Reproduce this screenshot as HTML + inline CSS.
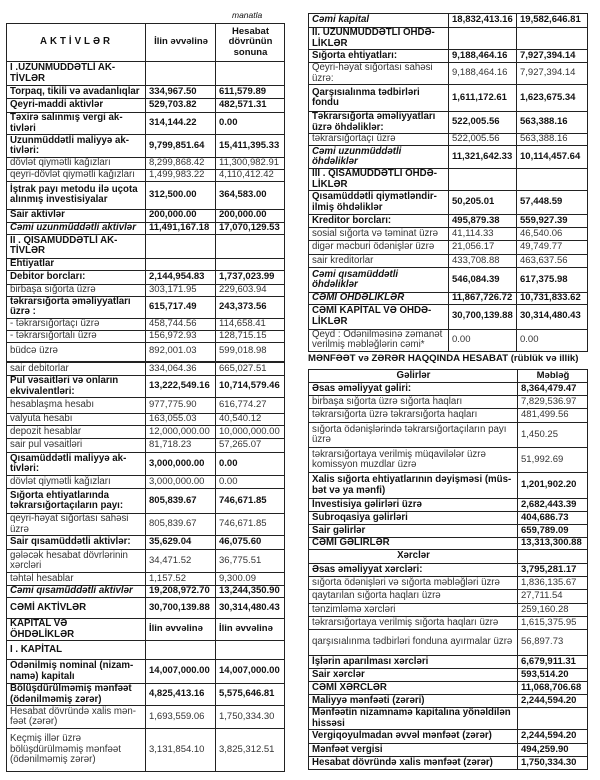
<!DOCTYPE html>
<html><head><meta charset="utf-8">
<style>
body{margin:0;width:600px;height:780px;background:#fff;position:relative;overflow:hidden;font-family:"Liberation Sans",Arial,sans-serif;color:#111;}
table{position:absolute;border-collapse:collapse;table-layout:fixed;font-size:9.7px;line-height:10.5px;}
td{border:1px solid #222;padding:0 2px 0 3px;vertical-align:middle;overflow:hidden;white-space:nowrap;}
td+td{font-size:9.5px;}
table{border:1.5px solid #222;}
.b td{font-weight:bold;}
.bi td{font-weight:bold;font-style:italic;}
.c{text-align:center;}
.n td{color:#333;}
</style></head><body>
<div style="position:absolute;left:232px;top:10px;font-size:8.5px;font-style:italic;">manatla</div>

<table style="left:6px;top:23px;width:278px;">
<colgroup><col style="width:139px"><col style="width:70px"><col style="width:69px"></colgroup>
<tr class="b" style="height:38px"><td class="c" style="letter-spacing:3px">AKTİVLƏR</td><td class="c">İlin əvvəlinə</td><td class="c">Hesabat<br>dövrünün<br>sonuna</td></tr>
<tr class="b" style="height:24px"><td>I .UZUNMÜDDƏTLİ AK-<br>TİVLƏR</td><td></td><td></td></tr>
<tr class="b" style="height:13px"><td>Torpaq, tikili və avadanlıqlar</td><td>334,967.50</td><td>611,579.89</td></tr>
<tr class="b" style="height:14px"><td>Qeyri-maddi aktivlər</td><td>529,703.82</td><td>482,571.31</td></tr>
<tr class="b" style="height:21px"><td>Təxirə salınmış vergi ak-<br>tivləri</td><td>314,144.22</td><td>0.00</td></tr>
<tr class="b" style="height:23px"><td>Uzunmüddətli maliyyə ak-<br>tivləri:</td><td>9,799,851.64</td><td>15,411,395.33</td></tr>
<tr class="n" style="height:11px"><td>dövlət qiymətli kağızları</td><td>8,299,868.42</td><td>11,300,982.91</td></tr>
<tr class="n" style="height:12px"><td>qeyri-dövlət qiymətli kağızları</td><td>1,499,983.22</td><td>4,110,412.42</td></tr>
<tr class="b" style="height:28px"><td>İştrak payı metodu ilə uçota<br>alınmış investisiyalar</td><td>312,500.00</td><td>364,583.00</td></tr>
<tr class="b" style="height:13px"><td>Sair aktivlər</td><td>200,000.00</td><td>200,000.00</td></tr>
<tr class="bi" style="height:12px"><td>Cəmi uzunmüddətli aktivlər</td><td style="font-style:normal">11,491,167.18</td><td style="font-style:normal">17,070,129.53</td></tr>
<tr class="b" style="height:24px"><td>II . QISAMÜDDƏTLİ AK-<br>TİVLƏR</td><td></td><td></td></tr>
<tr class="b" style="height:12px"><td>Ehtiyatlar</td><td></td><td></td></tr>
<tr class="b" style="height:14px"><td>Debitor borcları:</td><td>2,144,954.83</td><td>1,737,023.99</td></tr>
<tr class="n" style="height:12px"><td>birbaşa sığorta üzrə</td><td>303,171.95</td><td>229,603.94</td></tr>
<tr class="b" style="height:19px"><td>təkrarsığorta əməliyyatları<br>üzrə :</td><td>615,717.49</td><td>243,373.56</td></tr>
<tr class="n" style="height:12px"><td>- təkrarsığortaçı üzrə</td><td>458,744.56</td><td>114,658.41</td></tr>
<tr class="n" style="height:12px"><td>- təkrarsığortalı üzrə</td><td>156,972.93</td><td>128,715.15</td></tr>
<tr class="n" style="height:19px"><td>büdcə üzrə</td><td>892,001.03</td><td>599,018.98</td></tr>
</table>

<table style="left:6px;top:362px;width:278px;">
<colgroup><col style="width:139px"><col style="width:70px"><col style="width:69px"></colgroup>
<tr class="n" style="height:13px"><td>sair debitorlar</td><td>334,064.36</td><td>665,027.51</td></tr>
<tr class="b" style="height:21px"><td>Pul vəsaitləri və onların<br>ekvivalentləri:</td><td>13,222,549.16</td><td>10,714,579.46</td></tr>
<tr class="n" style="height:16px"><td>hesablaşma hesabı</td><td>977,775.90</td><td>616,774.27</td></tr>
<tr class="n" style="height:12px"><td>valyuta hesabı</td><td>163,055.03</td><td>40,540.12</td></tr>
<tr class="n" style="height:13px"><td>depozit hesablar</td><td>12,000,000.00</td><td>10,000,000.00</td></tr>
<tr class="n" style="height:14px"><td>sair pul vəsaitləri</td><td>81,718.23</td><td>57,265.07</td></tr>
<tr class="b" style="height:23px"><td>Qısamüddətli maliyyə ak-<br>tivləri:</td><td>3,000,000.00</td><td>0.00</td></tr>
<tr class="n" style="height:13px"><td>dövlət qiymətli kağızları</td><td>3,000,000.00</td><td>0.00</td></tr>
<tr class="b" style="height:25px"><td>Sığorta ehtiyatlarında<br>təkrarsığortaçıların payı:</td><td>805,839.67</td><td>746,671.85</td></tr>
<tr class="n" style="height:21px"><td>qeyri-həyat sığortası sahəsi<br>üzrə</td><td>805,839.67</td><td>746,671.85</td></tr>
<tr class="b" style="height:14px"><td>Sair qısamüddətli aktivlər:</td><td>35,629.04</td><td>46,075.60</td></tr>
<tr class="n" style="height:23px"><td>gələcək hesabat dövrlərinin<br>xərcləri</td><td>34,471.52</td><td>36,775.51</td></tr>
<tr class="n" style="height:13px"><td>təhtəl hesablar</td><td>1,157.52</td><td>9,300.09</td></tr>
<tr class="bi" style="height:12px"><td>Cəmi qısamüddətli aktivlər</td><td style="font-style:normal">19,208,972.70</td><td style="font-style:normal">13,244,350.90</td></tr>
<tr class="b" style="height:21px"><td>CƏMİ AKTİVLƏR</td><td>30,700,139.88</td><td>30,314,480.43</td></tr>
<tr class="b" style="height:22px"><td>KAPİTAL VƏ<br>ÖHDƏLİKLƏR</td><td>İlin əvvəlinə</td><td>İlin əvvəlinə</td></tr>
<tr class="b" style="height:19px"><td>I . KAPİTAL</td><td></td><td></td></tr>
<tr class="b" style="height:24px"><td>Ödənilmiş nominal (nizam-<br>namə) kapitalı</td><td>14,007,000.00</td><td>14,007,000.00</td></tr>
<tr class="b" style="height:22px"><td>Bölüşdürülməmiş mənfəət<br>(ödənilməmiş zərər)</td><td>4,825,413.16</td><td>5,575,646.81</td></tr>
<tr class="n" style="height:23px"><td>Hesabat dövründə xalis mən-<br>fəət (zərər)</td><td>1,693,559.06</td><td>1,750,334.30</td></tr>
<tr class="n" style="height:43px"><td>Keçmiş illər üzrə<br>bölüşdürülməmiş mənfəət<br>(ödənilməmiş zərər)</td><td>3,131,854.10</td><td>3,825,312.51</td></tr>
</table>

<table style="left:308px;top:13px;width:279px;">
<colgroup><col style="width:140px"><col style="width:68px"><col style="width:71px"></colgroup>
<tr class="bi" style="height:14px"><td>Cəmi kapital</td><td style="font-style:normal">18,832,413.16</td><td style="font-style:normal">19,582,646.81</td></tr>
<tr class="b" style="height:21px"><td>II. UZUNMÜDDƏTLİ ÖHDƏ-<br>LİKLƏR</td><td></td><td></td></tr>
<tr class="b" style="height:13px"><td>Sığorta ehtiyatları:</td><td>9,188,464.16</td><td>7,927,394.14</td></tr>
<tr class="n" style="height:22px"><td>Qeyri-həyat sığortası sahəsi<br>üzrə:</td><td>9,188,464.16</td><td>7,927,394.14</td></tr>
<tr class="b" style="height:27px"><td>Qarşısıalınma tədbirləri<br>fondu</td><td>1,611,172.61</td><td>1,623,675.34</td></tr>
<tr class="b" style="height:22px"><td>Təkrarsığorta əməliyyatları<br>üzrə öhdəliklər:</td><td>522,005.56</td><td>563,388.16</td></tr>
<tr class="n" style="height:12px"><td>təkrarsığortaçı üzrə</td><td>522,005.56</td><td>563,388.16</td></tr>
<tr class="bi" style="height:23px"><td>Cəmi uzunmüddətli<br>öhdəliklər</td><td style="font-style:normal">11,321,642.33</td><td style="font-style:normal">10,114,457.64</td></tr>
<tr class="b" style="height:22px"><td>III . QISAMÜDDƏTLİ ÖHDƏ-<br>LİKLƏR</td><td></td><td></td></tr>
<tr class="b" style="height:24px"><td>Qısamüddətli qiymətləndir-<br>ilmiş öhdəliklər</td><td>50,205.01</td><td>57,448.59</td></tr>
<tr class="b" style="height:13px"><td>Kreditor borcları:</td><td>495,879.38</td><td>559,927.39</td></tr>
<tr class="n" style="height:13px"><td>sosial sığorta və təminat üzrə</td><td>41,114.33</td><td>46,540.06</td></tr>
<tr class="n" style="height:14px"><td>digər məcburi ödənişlər üzrə</td><td>21,056.17</td><td>49,749.77</td></tr>
<tr class="n" style="height:13px"><td>sair kreditorlar</td><td>433,708.88</td><td>463,637.56</td></tr>
<tr class="bi" style="height:25px"><td>Cəmi qısamüddətli<br>öhdəliklər</td><td style="font-style:normal">546,084.39</td><td style="font-style:normal">617,375.98</td></tr>
<tr class="bi" style="height:11px"><td>CƏMİ ÖHDƏLİKLƏR</td><td style="font-style:normal">11,867,726.72</td><td style="font-style:normal">10,731,833.62</td></tr>
<tr class="b" style="height:25px"><td>CƏMİ KAPİTAL VƏ ÖHDƏ-<br>LİKLƏR</td><td>30,700,139.88</td><td>30,314,480.43</td></tr>
<tr class="n" style="height:20px"><td>Qeyd : Ödənilməsinə zəmanət<br>verilmiş məbləğlərin cəmi*</td><td>0.00</td><td>0.00</td></tr>
</table>

<div style="position:absolute;left:308px;top:353px;width:290px;font-size:9.6px;font-weight:bold;white-space:nowrap;">MƏNFƏƏT və ZƏRƏR HAQQINDA HESABAT (rüblük və illik)</div>

<table style="left:308px;top:369px;width:279px;">
<colgroup><col style="width:209px"><col style="width:70px"></colgroup>
<tr class="b" style="height:13px"><td class="c">Gəlirlər</td><td class="c">Məbləğ</td></tr>
<tr class="b" style="height:13px"><td>Əsas əməliyyat gəliri:</td><td>8,364,479.47</td></tr>
<tr class="n" style="height:13px"><td>birbaşa sığorta üzrə sığorta haqları</td><td>7,829,536.97</td></tr>
<tr class="n" style="height:14px"><td>təkrarsığorta üzrə təkrarsığorta haqları</td><td>481,499.56</td></tr>
<tr class="n" style="height:25px"><td>sığorta ödənişlərində təkrarsığortaçıların payı<br>üzrə</td><td>1,450.25</td></tr>
<tr class="n" style="height:25px"><td>təkrarsığortaya verilmiş müqavilələr üzrə<br>komissyon muzdlar üzrə</td><td>51,992.69</td></tr>
<tr class="b" style="height:26px"><td>Xalis sığorta ehtiyatlarının dəyişməsi (müs-<br>bət və ya mənfi)</td><td>1,201,902.20</td></tr>
<tr class="b" style="height:13px"><td>İnvestisiya gəlirləri üzrə</td><td>2,682,443.39</td></tr>
<tr class="b" style="height:13px"><td>Subroqasiya gəlirləri</td><td>404,686.73</td></tr>
<tr class="b" style="height:13px"><td>Sair gəlirlər</td><td>659,789.09</td></tr>
<tr class="b" style="height:12px"><td>CƏMİ GƏLİRLƏR</td><td>13,313,300.88</td></tr>
<tr class="b" style="height:14px"><td class="c">Xərclər</td><td></td></tr>
<tr class="b" style="height:13px"><td>Əsas əməliyyat xərcləri:</td><td>3,795,281.17</td></tr>
<tr class="n" style="height:13px"><td>sığorta ödənişləri və sığorta məbləğləri üzrə</td><td>1,836,135.67</td></tr>
<tr class="n" style="height:14px"><td>qaytarılan sığorta haqları üzrə</td><td>27,711.54</td></tr>
<tr class="n" style="height:13px"><td>tənzimləmə xərcləri</td><td>259,160.28</td></tr>
<tr class="n" style="height:13px"><td>təkrarsığortaya verilmiş sığorta haqları üzrə</td><td>1,615,375.95</td></tr>
<tr class="n" style="height:26px"><td>qarşısıalınma tədbirləri fonduna ayırmalar üzrə</td><td>56,897.73</td></tr>
<tr class="b" style="height:13px"><td>İşlərin aparılması xərcləri</td><td>6,679,911.31</td></tr>
<tr class="b" style="height:13px"><td>Sair xərclər</td><td>593,514.20</td></tr>
<tr class="b" style="height:13px"><td>CƏMİ XƏRCLƏR</td><td>11,068,706.68</td></tr>
<tr class="b" style="height:13px"><td>Maliyyə mənfəəti (zərəri)</td><td>2,244,594.20</td></tr>
<tr class="b" style="height:22px"><td>Mənfəətin nizamnamə kapitalına yönəldilən<br>hissəsi</td><td></td></tr>
<tr class="b" style="height:14px"><td>Vergiqoyulmadan əvvəl mənfəət (zərər)</td><td>2,244,594.20</td></tr>
<tr class="b" style="height:13px"><td>Mənfəət vergisi</td><td>494,259.90</td></tr>
<tr class="b" style="height:13px"><td>Hesabat dövründə xalis mənfəət (zərər)</td><td>1,750,334.30</td></tr>
</table>
</body></html>
